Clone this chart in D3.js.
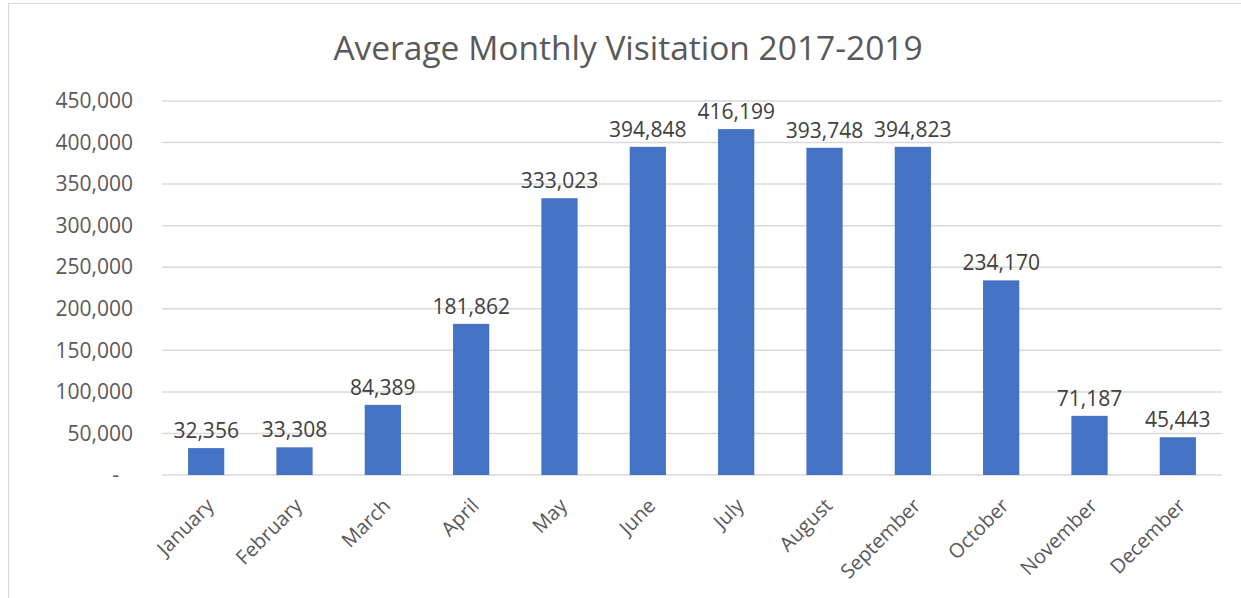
<!DOCTYPE html>
<html>
<head>
<meta charset="utf-8">
<script src="https://cdn.jsdelivr.net/npm/d3@7"></script>
<style>
  body { margin: 0; background: #fff; }
  text { font-family: "Open Sans", "Noto Sans", sans-serif; }
</style>
</head>
<body>
<script>
// chart data
var months = ["January", "February", "March", "April", "May", "June",
              "July", "August", "September", "October", "November", "December"];
var visits = [32356, 33308, 84389, 181862, 333023, 394848,
              416199, 393748, 394823, 234170, 71187, 45443];
var yTicks = [0, 50000, 100000, 150000, 200000, 250000, 300000, 350000, 400000, 450000];

var svg = d3.select("body").append("svg").attr("width", 1241).attr("height", 598),
    margin = {top: 101, right: 19, bottom: 123, left: 162},
    width = 1241 - margin.left - margin.right,
    height = 598 - margin.top - margin.bottom,
    g = svg.append("g").attr("transform", "translate(" + margin.left + "," + margin.top + ")");

// outer chart border (right/bottom edges fall off the picture)
svg.append("rect")
    .attr("x", 8.5).attr("y", 3.5)
    .attr("width", 1300).attr("height", 700)
    .attr("fill", "none").attr("stroke", "#d9d9d9");

svg.append("text")
    .attr("x", 628).attr("y", 60)
    .attr("text-anchor", "middle")
    .attr("fill", "#595959")
    .style("font-size", "33.5px")
    .text("Average Monthly Visitation 2017-2019");

var x = d3.scaleBand().domain(months).range([0, width]).paddingInner(0.59).paddingOuter(0.295);
var y = d3.scaleLinear().domain([0, 450000]).range([height, 0]);

// gridlines
g.selectAll(".grid")
    .data(yTicks)
  .enter().append("line")
    .attr("x1", 0).attr("x2", width)
    .attr("y1", function(d) { return y(d); })
    .attr("y2", function(d) { return y(d); })
    .attr("stroke", "#d9d9d9").attr("stroke-width", 1.5);

// y axis labels
var yAxis = g.append("g")
    .call(d3.axisLeft(y).tickValues(yTicks).tickSize(0).tickPadding(29)
      .tickFormat(function(d) { return d === 0 ? "-" : d3.format(",")(d); }));
yAxis.select(".domain").remove();
yAxis.selectAll("text")
    .attr("fill", "#595959")
    .style("font-size", "21px")
    .attr("dx", function(d) { return d === 0 ? -14 : 0; });

// bars
g.selectAll(".bar")
    .data(visits)
  .enter().append("rect")
    .attr("x", function(d, i) { return x(months[i]); })
    .attr("y", function(d) { return y(d); })
    .attr("width", x.bandwidth())
    .attr("height", function(d) { return height - y(d); })
    .attr("fill", "#4472c4");

// value labels
g.selectAll(".label")
    .data(visits)
  .enter().append("text")
    .attr("x", function(d, i) { return x(months[i]) + x.bandwidth() / 2; })
    .attr("y", function(d) { return y(d) - 10; })
    .attr("text-anchor", "middle")
    .attr("fill", "#404040")
    .style("font-size", "21px")
    .text(function(d) { return d3.format(",")(d); });

// x axis labels, rotated
var xAxis = g.append("g")
    .attr("transform", "translate(0," + height + ")")
    .call(d3.axisBottom(x).tickSize(0).tickPadding(0));
xAxis.select(".domain").remove();
xAxis.selectAll("text")
    .attr("fill", "#595959")
    .style("font-size", "20px")
    .attr("text-anchor", "end")
    .attr("dy", "0.35em")
    .attr("transform", "translate(4,27) rotate(-45)");
</script>
</body>
</html>
